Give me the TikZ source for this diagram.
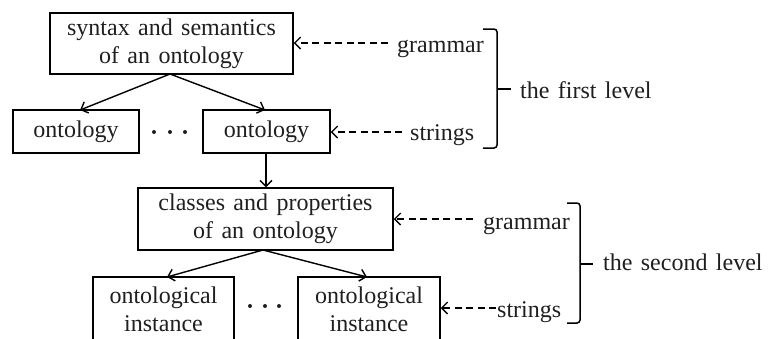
\documentclass[tikz,border=0pt]{standalone}
\usepackage{fontspec}
\setmainfont[WordSpace=1.4]{Liberation Serif}
\usetikzlibrary{arrows.meta}
\begin{document}
\begin{tikzpicture}[x=1pt,y=-1pt,
  every node/.style={font=\fontsize{24}{28}\selectfont, text=black!88},
  box/.style={draw, line width=1.5pt, align=center, inner sep=0pt},
  flow/.style={line width=1.4pt, -{Straight Barb[length=6pt,width=12pt]}},
  hint/.style={line width=1.3pt, dash pattern=on 7pt off 4.5pt, -{Straight Barb[length=6pt,width=12pt]}},
  lbl/.style={anchor=base west, inner sep=0pt},
  brace/.style={line width=1.5pt, rounded corners=3pt},
  dots/.style={fill=black!88}]
  \clip (0,0) rectangle (769,338);
  \useasboundingbox (0,0) rectangle (769,338);

  % first level
  \node[box, minimum width=243pt, minimum height=61pt] (syn) at (171.5,43.5) {syntax and semantics\\of an ontology};
  \node[box, minimum width=126pt, minimum height=43pt] (ontL) at (76,131.5) {ontology};
  \node[box, minimum width=127pt, minimum height=43pt] (ontR) at (266.5,131.5) {ontology};
  \foreach \x in {154,170,185} \fill[dots] (\x,132) circle (2pt);
  \coordinate (synb) at (170,74);
  \draw[flow] (synb) -- (80,110);
  \draw[flow] (synb) -- (265,110);

  \node[lbl] (g1) at (397,52) {grammar};
  \node[lbl] (s1) at (410,140) {strings};
  \draw[hint] (388,43) -- (syn.east |- 0,43);
  \draw[hint] (402,132) -- (ontR.east |- 0,132);
  \draw[brace] (483,29) -- (497,29) -- (497,89) -- (497,148) -- (483,148);
  \draw[line width=1.5pt] (497,89) -- (511,89);
  \node[lbl] (lv1) at (520,98) {the first level};

  % second level
  \node[box, minimum width=255pt, minimum height=62pt] (cls) at (265.5,219) {classes and properties\\of an ontology};
  \draw[flow] (ontR.south -| 266,0) -- (cls.north -| 266,0);
  \node[box, minimum width=141pt, minimum height=64pt] (insL) at (163.5,309) {ontological\\instance};
  \node[box, minimum width=142pt, minimum height=64pt] (insR) at (369,309) {ontological\\instance};
  \foreach \x in {250,265,279} \fill[dots] (\x,306) circle (2pt);
  \coordinate (clsb) at (263,250);
  \draw[flow] (clsb) -- (167,277);
  \draw[flow] (clsb) -- (367,277);

  \node[lbl] (g2) at (483,229) {grammar};
  \node[lbl] (s2) at (497,317) {strings};
  \draw[hint] (473,219) -- (cls.east |- 0,219);
  \draw[hint] (496,308) -- (insR.east |- 0,308);
  \draw[brace] (567,203) -- (580,203) -- (580,264) -- (580,323) -- (567,323);
  \draw[line width=1.5pt] (580,264) -- (593,264);
  \node[lbl] (lv2) at (603,270) {the second level};
\end{tikzpicture}
\end{document}
